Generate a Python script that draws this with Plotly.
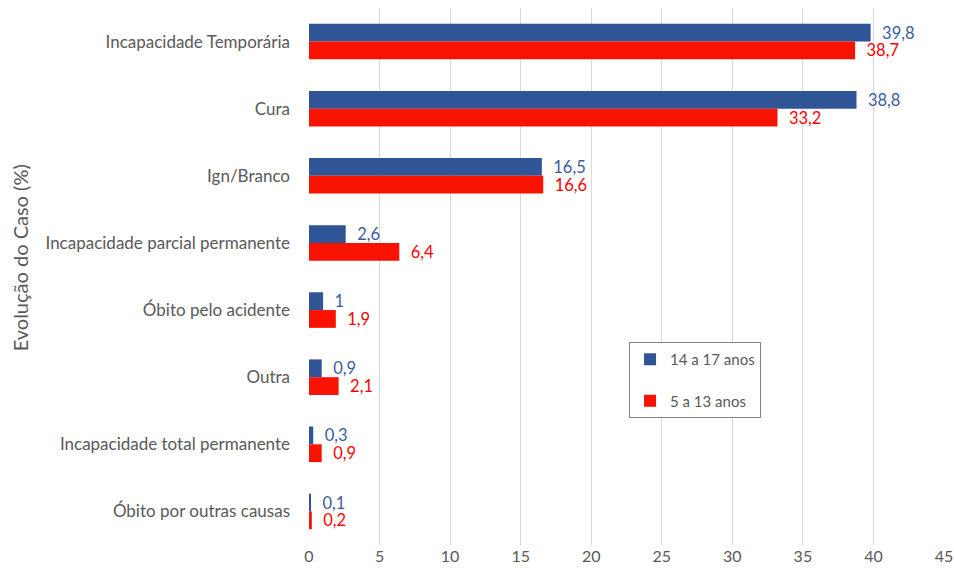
import plotly.graph_objects as go

categories = ["Incapacidade Temporária", "Cura", "Ign/Branco",
              "Incapacidade parcial permanente", "Óbito pelo acidente",
              "Outra", "Incapacidade total permanente", "Óbito por outras causas"]
series_names = ["14 a 17 anos", "5 a 13 anos"]
vals_14_17 = [39.8, 38.8, 16.5, 2.6, 1, 0.9, 0.3, 0.1]
vals_5_13 = [38.7, 33.2, 16.6, 6.4, 1.9, 2.1, 0.9, 0.2]
x_ticks = [0, 5, 10, 15, 20, 25, 30, 35, 40, 45]

def fmt(v):
    return "\u00a0\u00a0" + f"{v:g}".replace(".", ",")

FONT = "Lato, Open Sans, sans-serif"
bar_colors = ["#2F5597", "#F81200"]
text_colors = ["#3A5DA0", "#FF0000"]

fig = go.Figure()
for i, (name, vals) in enumerate(zip(series_names, [vals_14_17, vals_5_13])):
    fig.add_trace(go.Bar(
        y=categories, x=vals, name=name, orientation="h",
        marker=dict(color=bar_colors[i], line=dict(width=0)),
        text=[fmt(v) for v in vals], textposition="outside",
        textfont=dict(color=text_colors[i], size=16.5, family=FONT),
        cliponaxis=False, constraintext="none",
        legendgroup=name,
    ))

fig.update_layout(
    width=954, height=577,
    margin=dict(l=309, r=10, t=8, b=32, autoexpand=False),
    barmode="group", bargap=0.47, bargroupgap=0,
    plot_bgcolor="white", paper_bgcolor="white",
    font=dict(family=FONT, color="#595959", size=14),
    xaxis=dict(range=[0, 45], tickvals=x_ticks, showgrid=True,
               gridcolor="#D9D9D9", gridwidth=1, zeroline=False,
               showline=False, tickfont=dict(size=16, color="#595959"),
               ticks="", fixedrange=True, automargin=False),
    yaxis=dict(autorange="reversed", showgrid=False, showline=False,
               ticks="", ticklen=0, tickfont=dict(size=17, color="#595959"),
               ticklabelstandoff=18, automargin=False),
    legend=dict(x=0.504, y=0.378, xanchor="left", yanchor="top",
                bordercolor="#808080", borderwidth=1, bgcolor="white",
                font=dict(size=15, color="#595959"), tracegroupgap=19,
                itemwidth=30),
    showlegend=True,
)
fig.add_annotation(text="Evolução do Caso (%)", xref="paper", yref="paper",
                   x=-0.455, y=0.534, textangle=-90, showarrow=False,
                   font=dict(size=20, color="#595959"), xanchor="center",
                   yanchor="middle")
fig.write_html(
    "out.html",
    config={"displayModeBar": False},
    post_script="document.body.style.margin='0';document.body.style.overflow='hidden';",
)
